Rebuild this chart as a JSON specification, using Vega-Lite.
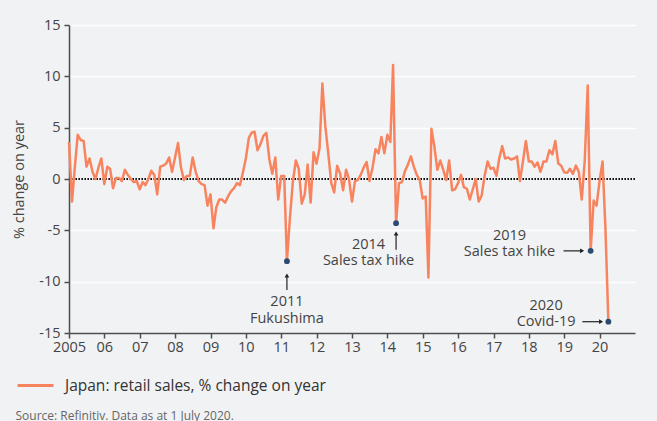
{
  "$schema": "https://vega.github.io/schema/vega-lite/v6.json",
  "width": 566,
  "height": 308,
  "autosize": {"type": "none"},
  "padding": {"left": 69, "top": 25, "right": 22, "bottom": 88},
  "background": "#f1f2f4",
  "config": {
    "view": {"stroke": null},
    "font": "Open Sans",
    "text": {"font": "Open Sans"}
  },
  "datasets": {
    "sales": [
      {"date": "2005-01", "value": 3.6}, {"date": "2005-02", "value": -2.2}, {"date": "2005-03", "value": 1.0}, {"date": "2005-04", "value": 4.3},
      {"date": "2005-05", "value": 3.8}, {"date": "2005-06", "value": 3.7}, {"date": "2005-07", "value": 1.2}, {"date": "2005-08", "value": 2.0},
      {"date": "2005-09", "value": 0.7}, {"date": "2005-10", "value": 0.0}, {"date": "2005-11", "value": 1.1}, {"date": "2005-12", "value": 2.0},
      {"date": "2006-01", "value": -0.5}, {"date": "2006-02", "value": 1.2}, {"date": "2006-03", "value": 1.0}, {"date": "2006-04", "value": -0.9},
      {"date": "2006-05", "value": 0.1}, {"date": "2006-06", "value": 0.1}, {"date": "2006-07", "value": -0.2}, {"date": "2006-08", "value": 0.9},
      {"date": "2006-09", "value": 0.4}, {"date": "2006-10", "value": 0.0}, {"date": "2006-11", "value": -0.3}, {"date": "2006-12", "value": -0.2},
      {"date": "2007-01", "value": -1.0}, {"date": "2007-02", "value": -0.3}, {"date": "2007-03", "value": -0.6}, {"date": "2007-04", "value": 0.0},
      {"date": "2007-05", "value": 0.8}, {"date": "2007-06", "value": 0.4}, {"date": "2007-07", "value": -1.5}, {"date": "2007-08", "value": 1.2},
      {"date": "2007-09", "value": 1.3}, {"date": "2007-10", "value": 1.5}, {"date": "2007-11", "value": 2.1}, {"date": "2007-12", "value": 0.7},
      {"date": "2008-01", "value": 2.1}, {"date": "2008-02", "value": 3.5}, {"date": "2008-03", "value": 1.2}, {"date": "2008-04", "value": -0.1},
      {"date": "2008-05", "value": 0.3}, {"date": "2008-06", "value": 0.3}, {"date": "2008-07", "value": 2.1}, {"date": "2008-08", "value": 0.7},
      {"date": "2008-09", "value": -0.2}, {"date": "2008-10", "value": -0.5}, {"date": "2008-11", "value": -0.6}, {"date": "2008-12", "value": -2.6},
      {"date": "2009-01", "value": -1.5}, {"date": "2009-02", "value": -4.8}, {"date": "2009-03", "value": -2.8}, {"date": "2009-04", "value": -2.0},
      {"date": "2009-05", "value": -2.0}, {"date": "2009-06", "value": -2.3}, {"date": "2009-07", "value": -1.7}, {"date": "2009-08", "value": -1.2},
      {"date": "2009-09", "value": -0.9}, {"date": "2009-10", "value": -0.4}, {"date": "2009-11", "value": -0.6}, {"date": "2009-12", "value": 0.6},
      {"date": "2010-01", "value": 2.0}, {"date": "2010-02", "value": 4.0}, {"date": "2010-03", "value": 4.5}, {"date": "2010-04", "value": 4.6},
      {"date": "2010-05", "value": 2.8}, {"date": "2010-06", "value": 3.4}, {"date": "2010-07", "value": 4.2}, {"date": "2010-08", "value": 4.5},
      {"date": "2010-09", "value": 1.9}, {"date": "2010-10", "value": 0.5}, {"date": "2010-11", "value": 2.1}, {"date": "2010-12", "value": -2.0},
      {"date": "2011-01", "value": 0.3}, {"date": "2011-02", "value": 0.3}, {"date": "2011-03", "value": -8.0}, {"date": "2011-04", "value": -3.8},
      {"date": "2011-05", "value": -0.3}, {"date": "2011-06", "value": 1.8}, {"date": "2011-07", "value": 1.0}, {"date": "2011-08", "value": -2.4},
      {"date": "2011-09", "value": -1.5}, {"date": "2011-10", "value": 1.4}, {"date": "2011-11", "value": -2.3}, {"date": "2011-12", "value": 2.6},
      {"date": "2012-01", "value": 1.5}, {"date": "2012-02", "value": 3.0}, {"date": "2012-03", "value": 9.3}, {"date": "2012-04", "value": 5.1},
      {"date": "2012-05", "value": 2.5}, {"date": "2012-06", "value": -0.4}, {"date": "2012-07", "value": -1.3}, {"date": "2012-08", "value": 1.3},
      {"date": "2012-09", "value": 0.5}, {"date": "2012-10", "value": -1.1}, {"date": "2012-11", "value": 0.9}, {"date": "2012-12", "value": 0.0},
      {"date": "2013-01", "value": -2.2}, {"date": "2013-02", "value": -0.2}, {"date": "2013-03", "value": -0.1}, {"date": "2013-04", "value": 0.4},
      {"date": "2013-05", "value": 1.1}, {"date": "2013-06", "value": 1.65}, {"date": "2013-07", "value": -0.2}, {"date": "2013-08", "value": 1.1},
      {"date": "2013-09", "value": 2.9}, {"date": "2013-10", "value": 2.5}, {"date": "2013-11", "value": 4.1}, {"date": "2013-12", "value": 2.5},
      {"date": "2014-01", "value": 4.3}, {"date": "2014-02", "value": 3.6}, {"date": "2014-03", "value": 11.1}, {"date": "2014-04", "value": -4.3},
      {"date": "2014-05", "value": -0.4}, {"date": "2014-06", "value": -0.3}, {"date": "2014-07", "value": 0.75}, {"date": "2014-08", "value": 1.4},
      {"date": "2014-09", "value": 2.2}, {"date": "2014-10", "value": 1.2}, {"date": "2014-11", "value": 0.4}, {"date": "2014-12", "value": -0.1},
      {"date": "2015-01", "value": -1.9}, {"date": "2015-02", "value": -1.7}, {"date": "2015-03", "value": -9.6}, {"date": "2015-04", "value": 4.9},
      {"date": "2015-05", "value": 3.2}, {"date": "2015-06", "value": 0.9}, {"date": "2015-07", "value": 1.8}, {"date": "2015-08", "value": 0.9},
      {"date": "2015-09", "value": -0.1}, {"date": "2015-10", "value": 1.8}, {"date": "2015-11", "value": -1.1}, {"date": "2015-12", "value": -1.0},
      {"date": "2016-01", "value": -0.4}, {"date": "2016-02", "value": 0.4}, {"date": "2016-03", "value": -0.8}, {"date": "2016-04", "value": -0.95},
      {"date": "2016-05", "value": -2.0}, {"date": "2016-06", "value": -1.0}, {"date": "2016-07", "value": 0.0}, {"date": "2016-08", "value": -2.2},
      {"date": "2016-09", "value": -1.6}, {"date": "2016-10", "value": 0.3}, {"date": "2016-11", "value": 1.7}, {"date": "2016-12", "value": 1.0},
      {"date": "2017-01", "value": 1.1}, {"date": "2017-02", "value": 0.3}, {"date": "2017-03", "value": 2.0}, {"date": "2017-04", "value": 3.2},
      {"date": "2017-05", "value": 2.0}, {"date": "2017-06", "value": 2.1}, {"date": "2017-07", "value": 1.9}, {"date": "2017-08", "value": 2.0},
      {"date": "2017-09", "value": 2.2}, {"date": "2017-10", "value": -0.2}, {"date": "2017-11", "value": 1.7}, {"date": "2017-12", "value": 3.7},
      {"date": "2018-01", "value": 1.7}, {"date": "2018-02", "value": 1.7}, {"date": "2018-03", "value": 1.2}, {"date": "2018-04", "value": 1.6},
      {"date": "2018-05", "value": 0.7}, {"date": "2018-06", "value": 1.7}, {"date": "2018-07", "value": 1.7}, {"date": "2018-08", "value": 2.8},
      {"date": "2018-09", "value": 2.4}, {"date": "2018-10", "value": 3.7}, {"date": "2018-11", "value": 1.5}, {"date": "2018-12", "value": 1.3},
      {"date": "2019-01", "value": 0.65}, {"date": "2019-02", "value": 0.6}, {"date": "2019-03", "value": 1.0}, {"date": "2019-04", "value": 0.5},
      {"date": "2019-05", "value": 1.3}, {"date": "2019-06", "value": 0.7}, {"date": "2019-07", "value": -2.0}, {"date": "2019-08", "value": 1.8},
      {"date": "2019-09", "value": 9.1}, {"date": "2019-10", "value": -7.0}, {"date": "2019-11", "value": -2.1}, {"date": "2019-12", "value": -2.6},
      {"date": "2020-01", "value": -0.2}, {"date": "2020-02", "value": 1.7}, {"date": "2020-03", "value": -4.6}, {"date": "2020-04", "value": -13.9}
    ],
    "events": [
      {"date": "2011-03", "value": -8.0},
      {"date": "2014-04", "value": -4.3},
      {"date": "2019-10", "value": -7.0},
      {"date": "2020-04", "value": -13.9}
    ],
    "notes": [
      {"date": "2011-03-01", "value": -12.0, "label": "2011\nFukushima"},
      {"date": "2013-06-21", "value": -6.41, "label": "2014\nSales tax hike"},
      {"date": "2017-06-15", "value": -5.53, "label": "2019\nSales tax hike"},
      {"date": "2018-06-28", "value": -12.36, "label": "2020\nCovid-19"}
    ],
    "vArrows": [
      {"date": "2011-03-01", "value": -10.8, "value2": -9.4},
      {"date": "2014-04-01", "value": -6.9, "value2": -5.3}
    ],
    "hArrows": [
      {"date": "2018-12-25", "date2": "2019-07-05", "value": -7.0},
      {"date": "2019-07-07", "date2": "2020-01-17", "value": -13.9}
    ]
  },
  "layer": [
    {
      "data": {"values": [{}]},
      "mark": {"type": "rule", "color": "#111111", "strokeWidth": 2, "strokeDash": [1.6, 1.4]},
      "encoding": {"y": {"datum": 0, "type": "quantitative", "title": "% change on year"}}
    },
    {
      "data": {"name": "sales"},
      "mark": {"type": "line", "strokeWidth": 2.5, "strokeJoin": "round"},
      "encoding": {
        "x": {
          "field": "date", "type": "temporal",
          "scale": {"domain": [{"year": 2005, "month": 1, "date": 1}, {"year": 2020, "month": 12, "date": 31, "hours": 23}], "nice": false},
          "title": "Source: Refinitiv. Data as at 1 July 2020.",
          "axis": {
            "tickCount": {"interval": "year", "step": 1},
            "labelExpr": "year(datum.value) == 2005 ? '2005' : timeFormat(datum.value, '%y')",
            "grid": false,
            "domainColor": "#4d4d4d", "domainWidth": 1.5,
            "tickColor": "#4d4d4d", "tickWidth": 1.5, "tickSize": 5,
            "labelFontSize": 14.5, "labelColor": "#444444", "labelPadding": 2,
            "labelFlush": false, "labelOverlap": false, "labelBound": false,
            "titleFontSize": 12, "titleFontWeight": "normal", "titleColor": "#666666",
            "titleX": -54, "titleY": 82, "titleAlign": "left", "titleAnchor": "start", "titleBaseline": "middle"
          }
        },
        "y": {
          "field": "value", "type": "quantitative",
          "scale": {"domain": [-15, 15], "nice": false, "zero": false},
          "title": "% change on year",
          "axis": {
            "values": [-15, -10, -5, 0, 5, 10, 15],
            "labelExpr": "'' + datum.value",
            "grid": true,
            "gridColor": {"condition": {"test": "datum.value === 0", "value": "transparent"}, "value": "#ffffff"},
            "gridWidth": 1.5,
            "domainColor": "#4d4d4d", "domainWidth": 1.5,
            "tickColor": "#4d4d4d", "tickWidth": 1.5, "tickSize": 5,
            "labelFontSize": 14.5, "labelColor": "#444444", "labelPadding": 4,
            "titleFontSize": 14.5, "titleFontWeight": "normal", "titleColor": "#444444",
            "titleX": -50, "titleY": 154, "titleAngle": -90, "titleAlign": "center", "titleBaseline": "middle"
          }
        },
        "color": {
          "datum": "Japan: retail sales, % change on year", "type": "nominal",
          "scale": {"range": ["#f7845f"]},
          "legend": {
            "orient": "none", "legendX": -53, "legendY": 341, "title": null, "padding": 0,
            "symbolType": "stroke", "symbolSize": 1296, "symbolStrokeWidth": 3,
            "labelFontSize": 15.5, "labelColor": "#333333", "labelOffset": 10, "labelLimit": 0
          }
        }
      }
    },
    {
      "data": {"name": "vArrows"},
      "mark": {"type": "rule", "color": "#222222", "strokeWidth": 1.2},
      "encoding": {
        "x": {"field": "date", "type": "temporal", "title": "Source: Refinitiv. Data as at 1 July 2020."},
        "y": {"field": "value", "type": "quantitative", "title": "% change on year"},
        "y2": {"field": "value2"}
      }
    },
    {
      "data": {"name": "vArrows"},
      "mark": {"type": "point", "shape": "triangle-up", "filled": true, "color": "#222222", "size": 22, "opacity": 1},
      "encoding": {
        "x": {"field": "date", "type": "temporal", "title": "Source: Refinitiv. Data as at 1 July 2020."},
        "y": {"field": "value2", "type": "quantitative", "title": "% change on year"}
      }
    },
    {
      "data": {"name": "hArrows"},
      "mark": {"type": "rule", "color": "#222222", "strokeWidth": 1.2},
      "encoding": {
        "x": {"field": "date", "type": "temporal", "title": "Source: Refinitiv. Data as at 1 July 2020."},
        "x2": {"field": "date2"},
        "y": {"field": "value", "type": "quantitative", "title": "% change on year"}
      }
    },
    {
      "data": {"name": "hArrows"},
      "mark": {"type": "point", "shape": "triangle-right", "filled": true, "color": "#222222", "size": 22, "opacity": 1},
      "encoding": {
        "x": {"field": "date2", "type": "temporal", "title": "Source: Refinitiv. Data as at 1 July 2020."},
        "y": {"field": "value", "type": "quantitative", "title": "% change on year"}
      }
    },
    {
      "data": {"name": "events"},
      "mark": {"type": "point", "filled": true, "color": "#2b4b70", "size": 34, "opacity": 1},
      "encoding": {
        "x": {"field": "date", "type": "temporal", "title": "Source: Refinitiv. Data as at 1 July 2020."},
        "y": {"field": "value", "type": "quantitative", "title": "% change on year"}
      }
    },
    {
      "data": {"name": "notes"},
      "mark": {"type": "text", "fontSize": 14.5, "color": "#444444", "align": "center", "baseline": "middle", "lineBreak": "\n", "lineHeight": 16.5},
      "encoding": {
        "x": {"field": "date", "type": "temporal", "title": "Source: Refinitiv. Data as at 1 July 2020."},
        "y": {"field": "value", "type": "quantitative", "title": "% change on year"},
        "text": {"field": "label"}
      }
    }
  ]
}
